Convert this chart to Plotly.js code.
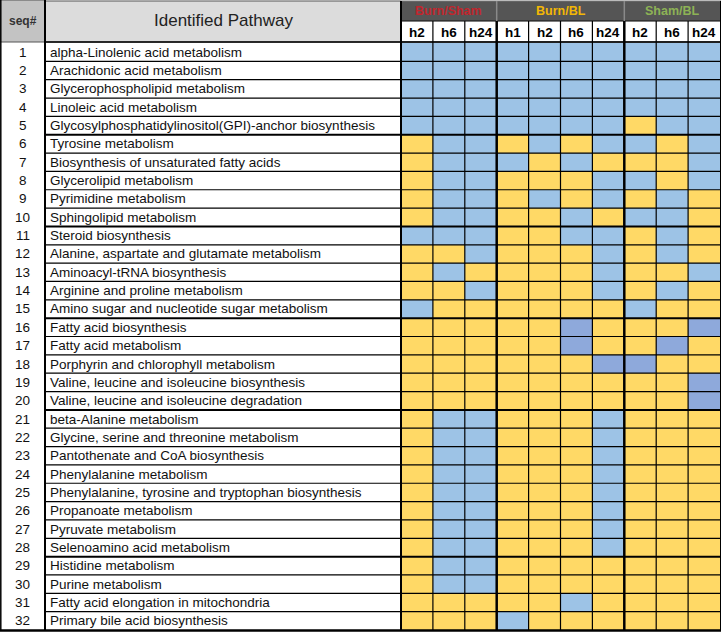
<!DOCTYPE html>
<html>
<head>
<meta charset="utf-8">
<script src="https://cdn.plot.ly/plotly-3.0.1.min.js"></script>
<style>html,body{margin:0;padding:0;background:#fff;}#chart{width:721px;height:632px;}</style>
</head>
<body>
<div id="chart"></div>
<script>
// ---------- data ----------
const seqNums = [1,2,3,4,5,6,7,8,9,10,11,12,13,14,15,16,17,18,19,20,21,22,23,24,25,26,27,28,29,30,31,32];
const pathways = [
  "alpha-Linolenic acid metabolism",
  "Arachidonic acid metabolism",
  "Glycerophospholipid metabolism",
  "Linoleic acid metabolism",
  "Glycosylphosphatidylinositol(GPI)-anchor biosynthesis",
  "Tyrosine metabolism",
  "Biosynthesis of unsaturated fatty acids",
  "Glycerolipid metabolism",
  "Pyrimidine metabolism",
  "Sphingolipid metabolism",
  "Steroid biosynthesis",
  "Alanine, aspartate and glutamate metabolism",
  "Aminoacyl-tRNA biosynthesis",
  "Arginine and proline metabolism",
  "Amino sugar and nucleotide sugar metabolism",
  "Fatty acid biosynthesis",
  "Fatty acid metabolism",
  "Porphyrin and chlorophyll metabolism",
  "Valine, leucine and isoleucine biosynthesis",
  "Valine, leucine and isoleucine degradation",
  "beta-Alanine metabolism",
  "Glycine, serine and threonine metabolism",
  "Pantothenate and CoA biosynthesis",
  "Phenylalanine metabolism",
  "Phenylalanine, tyrosine and tryptophan biosynthesis",
  "Propanoate metabolism",
  "Pyruvate metabolism",
  "Selenoamino acid metabolism",
  "Histidine metabolism",
  "Purine metabolism",
  "Fatty acid elongation in mitochondria",
  "Primary bile acid biosynthesis"
];
const groupNames = ["Burn/Sham", "Burn/BL", "Sham/BL"];
const groupSizes = [3, 4, 3];
const timepoints = ["h2","h6","h24","h1","h2","h6","h24","h2","h6","h24"];
// 0 = yellow, 1 = light blue, 2 = darker blue
const status = [
  [1,1,1,1,1,1,1,1,1,1],
  [1,1,1,1,1,1,1,1,1,1],
  [1,1,1,1,1,1,1,1,1,1],
  [1,1,1,1,1,1,1,1,1,1],
  [1,1,1,1,1,1,1,0,1,1],
  [0,1,1,0,1,0,1,1,0,1],
  [0,1,1,1,0,1,0,0,0,1],
  [0,1,1,0,0,0,1,1,0,1],
  [0,1,1,0,1,0,1,0,1,0],
  [0,1,1,0,0,1,0,1,1,0],
  [1,1,1,0,0,1,1,0,1,0],
  [0,0,1,0,0,0,1,0,1,0],
  [0,1,0,0,0,0,1,0,0,1],
  [0,0,1,0,0,0,1,0,1,0],
  [1,0,0,0,0,0,0,1,0,0],
  [0,0,0,0,0,2,0,0,0,2],
  [0,0,0,0,0,2,0,0,2,0],
  [0,0,0,0,0,0,2,2,0,0],
  [0,0,0,0,0,0,0,0,0,2],
  [0,0,0,0,0,0,0,0,0,2],
  [0,1,1,0,0,0,1,0,0,0],
  [0,1,1,0,0,0,1,0,0,0],
  [0,1,1,0,0,0,1,0,0,0],
  [0,1,1,0,0,0,1,0,0,0],
  [0,1,1,0,0,0,1,0,0,0],
  [0,1,1,0,0,0,1,0,0,0],
  [0,1,1,0,0,0,1,0,0,0],
  [0,1,1,0,0,0,1,0,0,0],
  [0,1,1,0,0,0,0,0,0,0],
  [0,1,1,0,0,0,0,0,0,0],
  [0,0,0,0,0,1,0,0,0,0],
  [0,0,0,1,0,0,0,0,0,0]
];
const thickRowBreaks = [5, 10, 15, 20, 28];

// ---------- style ----------
const W = 721, H = 632;
const FONT = "Liberation Sans, Arial, sans-serif";
const YEL = "#FFD966", BLU = "#9DC3E6", DBL = "#8EA9DB";
const groupColors = ["#C0262D", "#F2B705", "#8DB255"];
const px = x => x / W;
const py = y => 1 - y / H;
const gridLeft = 401, gridRight = 720, gridTop = 43, gridBottom = 630;
const seqRight = 45;

const colIdx = timepoints.map((_, i) => i);

const trace = {
  type: "heatmap",
  x: colIdx,
  y: seqNums,
  z: status,
  zmin: 0, zmax: 2,
  colorscale: [[0, YEL], [0.333, YEL], [0.334, BLU], [0.666, BLU], [0.667, DBL], [1, DBL]],
  showscale: false,
  hoverinfo: "skip"
};

const shapes = [];
const annotations = [];
function note(o) {
  annotations.push(Object.assign({showarrow:false, xanchor:"center", yanchor:"middle"}, o));
}
// header backgrounds
shapes.push({type:"rect", xref:"paper", yref:"paper", x0:px(0), x1:px(seqRight), y0:py(42), y1:py(0),
  fillcolor:"#C3C3C3", line:{color:"#555", width:1}, layer:"below"});
shapes.push({type:"rect", xref:"paper", yref:"paper", x0:px(seqRight), x1:px(gridLeft), y0:py(42), y1:py(1),
  fillcolor:"#DCDCDC", line:{color:"#555", width:1}, layer:"below"});
shapes.push({type:"rect", xref:"paper", yref:"paper", x0:px(gridLeft), x1:px(W), y0:py(21), y1:py(1),
  fillcolor:"#555555", line:{color:"#777", width:1}, layer:"below"});
shapes.push({type:"rect", xref:"paper", yref:"paper", x0:px(gridLeft), x1:px(W), y0:py(42), y1:py(21),
  fillcolor:"#FFFFFF", line:{color:"#000", width:1}, layer:"below"});

// group boundaries
let acc = 0;
const groupBounds = [];
groupSizes.forEach((n, g) => {
  const start = acc - 0.5, end = acc + n - 0.5;
  groupBounds.push(end);
  note({xref:"x", yref:"paper", x:(start+end)/2, y:py(11.5), text:"<b>"+groupNames[g]+"</b>",
    font:{family:FONT, size:12.5, color:groupColors[g]}});
  if (g < groupSizes.length - 1) {
    shapes.push({type:"line", xref:"x", yref:"paper", x0:end, x1:end, y0:py(21), y1:py(1), line:{color:"#8a8a8a", width:1.5}});
  }
  acc += n;
});

// subheader labels and column lines
timepoints.forEach((t, i) => {
  note({xref:"x", yref:"paper", x:i, y:py(32), text:"<b>"+t+"</b>",
    font:{family:FONT, size:13.5, color:"#000"}});
  if (i > 0) {
    const thick = groupBounds.includes(i - 0.5);
    shapes.push({type:"line", xref:"x", yref:"paper", x0:i-0.5, x1:i-0.5, y0:py(gridBottom), y1:py(21),
      line:{color:"#000", width: thick ? 2.5 : 1.2}});
  }
});
// left edge of grid
shapes.push({type:"line", xref:"paper", yref:"paper", x0:px(gridLeft), x1:px(gridLeft), y0:py(gridBottom), y1:py(1), line:{color:"#000", width:2}});
shapes.push({type:"line", xref:"paper", yref:"paper", x0:px(W-0.5), x1:px(W-0.5), y0:py(gridBottom), y1:py(1), line:{color:"#000", width:1}});
// seq / pathway separator and outer left border
shapes.push({type:"line", xref:"paper", yref:"paper", x0:px(seqRight), x1:px(seqRight), y0:py(gridBottom), y1:py(0), line:{color:"#000", width:2}});
shapes.push({type:"line", xref:"paper", yref:"paper", x0:px(0.8), x1:px(0.8), y0:py(gridBottom), y1:py(0), line:{color:"#000", width:1.5}});
// header bottom
shapes.push({type:"line", xref:"paper", yref:"paper", x0:px(seqRight), x1:px(W), y0:py(42), y1:py(42), line:{color:"#000", width:1.5}});

// row lines
seqNums.forEach((s, i) => {
  if (i === seqNums.length - 1) return;
  const thick = thickRowBreaks.includes(s);
  shapes.push({type:"line", xref:"paper", yref:"y", x0:px(seqRight), x1:px(W), y0:s+0.5, y1:s+0.5,
    line:{color:"#000", width: thick ? 2 : 1.2}});
});
// bottom border
shapes.push({type:"line", xref:"paper", yref:"paper", x0:px(0), x1:px(W), y0:py(gridBottom+0.5), y1:py(gridBottom+0.5), line:{color:"#000", width:2.5}});

// header texts
note({xref:"paper", yref:"paper", x:px(22.5), y:py(21), text:"<b>seq#</b>",
  font:{family:FONT, size:12, color:"#333"}});
note({xref:"paper", yref:"paper", x:px(224), y:py(21), text:"Identified Pathway",
  font:{family:FONT, size:17, color:"#222"}});

// row labels
seqNums.forEach((s, i) => {
  note({xref:"paper", yref:"y", x:px(22.5), y:s, text:String(s),
    font:{family:FONT, size:13.5, color:"#111"}});
  note({xref:"paper", yref:"y", x:px(48), y:s, xanchor:"left", text:pathways[i],
    font:{family:FONT, size:13.5, color:"#111"}});
});

const layout = {
  width: W, height: H,
  margin: {l:0, r:0, t:0, b:0, pad:0},
  paper_bgcolor: "#FFFFFF",
  plot_bgcolor: "#FFFFFF",
  showlegend: false,
  xaxis: {domain:[px(gridLeft), px(gridRight)], range:[-0.5, timepoints.length - 0.5], showgrid:false, zeroline:false,
    showticklabels:false, ticks:"", fixedrange:true},
  yaxis: {domain:[py(gridBottom), py(gridTop)], range:[seqNums.length + 0.5, 0.5], showgrid:false, zeroline:false,
    showticklabels:false, ticks:"", fixedrange:true},
  shapes: shapes,
  annotations: annotations
};

Plotly.newPlot("chart", [trace], layout, {displayModeBar:false, staticPlot:true});
</script>
</body>
</html>
